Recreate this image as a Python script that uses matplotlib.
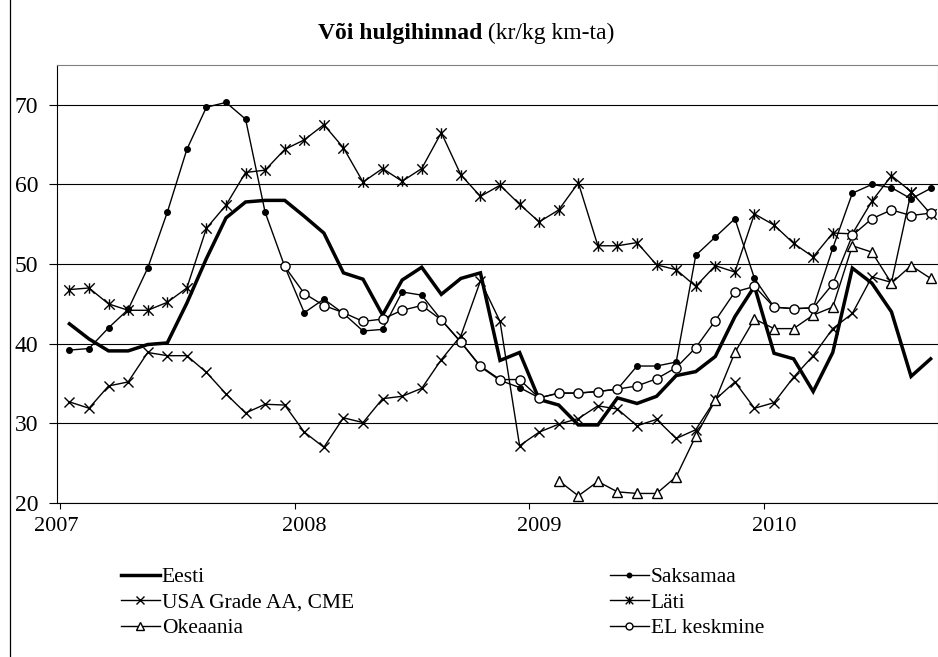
import numpy as np
import pandas as pd
import matplotlib
matplotlib.use('Agg')
import matplotlib.pyplot as plt
from matplotlib.lines import Line2D
from matplotlib.path import Path

nan = np.nan

# Monthly categories Jan 2007 .. Sep 2010
months = pd.date_range('2007-01-01', periods=45, freq='MS')
year_labels = ['2007', '2008', '2009', '2010']
y_ticks = [20, 30, 40, 50, 60, 70]

eesti = [42.5, 40.6, 39.1, 39.1, 39.9, 40.1, 45.1, 50.7, 55.8, 57.8, 58.0, 58.0,
         56.0, 53.9, 48.9, 48.1, 43.6, 48.0, 49.6, 46.2, 48.2, 48.9, 37.9, 38.9,
         33.0, 32.3, 29.8, 29.8, 33.2, 32.5, 33.4, 36.0, 36.5, 38.4, 43.4, 47.2,
         38.8, 38.1, 34.0, 38.9, 49.5, 47.6, 44.0, 35.9, 38.1]

saksamaa = [39.2, 39.4, 42.0, 44.3, 49.5, 56.5, 64.4, 69.7, 70.3, 68.2, 56.5, 49.7,
            43.9, 45.6, 43.8, 41.6, 41.8, 46.5, 46.1, 43.0, 40.2, 37.1, 35.4, 34.5,
            33.2, 33.8, 33.8, 34.0, 34.3, 37.2, 37.2, 37.7, 51.1, 53.4, 55.7, 48.2,
            44.6, 44.4, 44.5, 52.0, 58.9, 60.0, 59.6, 58.2, 59.5]

usa = [32.7, 31.9, 34.7, 35.2, 38.9, 38.5, 38.5, 36.4, 33.7, 31.3, 32.4, 32.3,
       28.9, 27.0, 30.7, 30.1, 33.1, 33.4, 34.4, 38.0, 41.0, 47.9, 42.8, 27.2,
       28.9, 29.9, 30.6, 32.2, 31.8, 29.7, 30.5, 28.1, 29.2, 33.0, 35.2, 31.9,
       32.6, 35.8, 38.5, 41.9, 43.8, 48.4, 47.7, 59.0, nan]

lati = [46.8, 47.0, 45.0, 44.2, 44.2, 45.2, 47.0, 54.5, 57.4, 61.5, 61.8, 64.4,
        65.6, 67.5, 64.6, 60.3, 62.0, 60.4, 62.0, 66.5, 61.2, 58.5, 59.9, 57.5,
        55.3, 56.8, 60.2, 52.3, 52.3, 52.7, 49.9, 49.3, 47.2, 49.8, 49.0, 56.3,
        54.9, 52.6, 50.9, 53.9, 53.8, 57.9, 61.1, 59.1, 56.3]

okeaania = [nan] * 25 + [22.8, 20.9, 22.7, 21.4, 21.2, 21.2, 23.3, 28.4, 32.9, 38.9, 43.1,
                         41.9, 41.9, 43.6, 44.6, 52.3, 51.5, 47.6, 49.8, 48.2]

el_keskmine = [nan] * 11 + [49.7, 46.3, 44.8, 43.9, 42.8, 43.1, 44.2, 44.8, 43.0, 40.2, 37.2,
                            35.5, 35.5, 33.2, 33.8, 33.8, 34.0, 34.3, 34.7, 35.6, 37.0, 39.5,
                            42.9, 46.5, 47.2, 44.6, 44.4, 44.5, 47.5, 53.6, 55.7, 56.8, 56.1,
                            56.4]

labels = ['Eesti', 'Saksamaa', 'USA Grade AA, CME', 'Läti', 'Okeaania', 'EL keskmine']

plt.rcParams['font.family'] = ['Liberation Serif', 'DejaVu Serif']

W, H = 938, 657
fig = plt.figure(figsize=(W / 100, H / 100), dpi=100)
ax_left = 56.5
ax = fig.add_axes([ax_left / W, (H - 503) / H, (W - ax_left) / W, (503 - 65) / H])

x = np.arange(len(months))
star = Path([(-1, -1), (1, 1), (-1, 1), (1, -1), (0, -1), (0, 1)],
            [Path.MOVETO, Path.LINETO, Path.MOVETO, Path.LINETO, Path.MOVETO, Path.LINETO])

thin = 1.0
ax.plot(x, np.array(eesti, float), color='black', lw=2.5, zorder=3, solid_joinstyle='miter')
ax.plot(x, np.array(saksamaa, float), color='black', lw=thin, marker='o', ms=4.0,
        mfc='black', mec='black', zorder=4)
ax.plot(x, np.array(usa, float), color='black', lw=thin, marker='x', ms=7.2, mew=1.0, zorder=5)
ax.plot(x, np.array(lati, float), color='black', lw=thin, marker=star, ms=7.5, mew=1.0, zorder=6)
ax.plot(x, np.array(okeaania, float), color='black', lw=thin, marker='^', ms=7.2,
        mfc='white', mec='black', mew=1.0, zorder=7)
ax.plot(x, np.array(el_keskmine, float), color='black', lw=thin, marker='o', ms=6.6,
        mfc='white', mec='black', mew=1.0, zorder=8)

# axes scales
x_right = (W - 66) / 19.65
ax.set_xlim(-0.5, x_right)
ax.set_ylim(20, 75)

ax.set_yticks(y_ticks)
ax.set_yticklabels([str(v) for v in y_ticks])
ax.yaxis.grid(True, color='black', lw=0.8)
ax.set_axisbelow(True)
ax.tick_params(axis='y', direction='out', length=6, width=0.8, labelsize=17, pad=7)

jan_idx = [i for i, m in enumerate(months) if m.month == 1]
ax.set_xticks([i - 0.5 for i in jan_idx])
ax.set_xticklabels([])
label_pos = [jan_idx[0] - 0.66] + jan_idx[1:]
ax.set_xticks(label_pos, minor=True)
ax.set_xticklabels(year_labels, minor=True)
ax.tick_params(axis='x', which='major', direction='out', length=4.5, width=0.8)
ax.tick_params(axis='x', which='minor', length=0, labelsize=16, pad=10)

for s in ['left', 'bottom']:
    ax.spines[s].set_color('black')
    ax.spines[s].set_linewidth(0.8)
for s in ['top', 'right']:
    ax.spines[s].set_color('#808080')
    ax.spines[s].set_linewidth(0.8)

# title: bold part + regular part
t1 = fig.text(318 / W, 1 - 33 / H, 'Või hulgihinnad', fontsize=17, fontweight='bold',
              ha='left', va='center')
ax.annotate(' (kr/kg km-ta)', xy=(1, 0), xycoords=t1, fontsize=17, ha='left', va='bottom',
            annotation_clip=False)

# legends
def h(**kw):
    return Line2D([], [], color='black', **kw)

h_eesti = h(lw=2.5)
h_saks = h(lw=thin, marker='o', ms=3.2, mfc='black')
h_usa = h(lw=thin, marker='x', ms=5.5, mew=1.0)
h_lati = h(lw=thin, marker=star, ms=5.5, mew=1.0)
h_oke = h(lw=thin, marker='^', ms=5.5, mfc='white', mew=1.0)
h_el = h(lw=thin, marker='o', ms=5.0, mfc='white', mew=1.0)

common = dict(loc='upper left', frameon=False, fontsize=15.5, handlelength=1.8,
              handletextpad=0.1, labelspacing=0.26, borderpad=0, borderaxespad=0)
fig.legend([h_eesti, h_usa, h_oke], [labels[0], labels[2], labels[4]],
           bbox_to_anchor=(121 / W, 1 - 567 / H), **common)
fig.legend([h_saks, h_lati, h_el], [labels[1], labels[3], labels[5]],
           bbox_to_anchor=(610 / W, 1 - 567 / H), **common)

# outer chart border (left edge visible)
fig.add_artist(Line2D([9.5 / W, 9.5 / W], [0, 1], color='black', lw=0.9,
                      transform=fig.transFigure))

fig.savefig('out.png', dpi=100)
